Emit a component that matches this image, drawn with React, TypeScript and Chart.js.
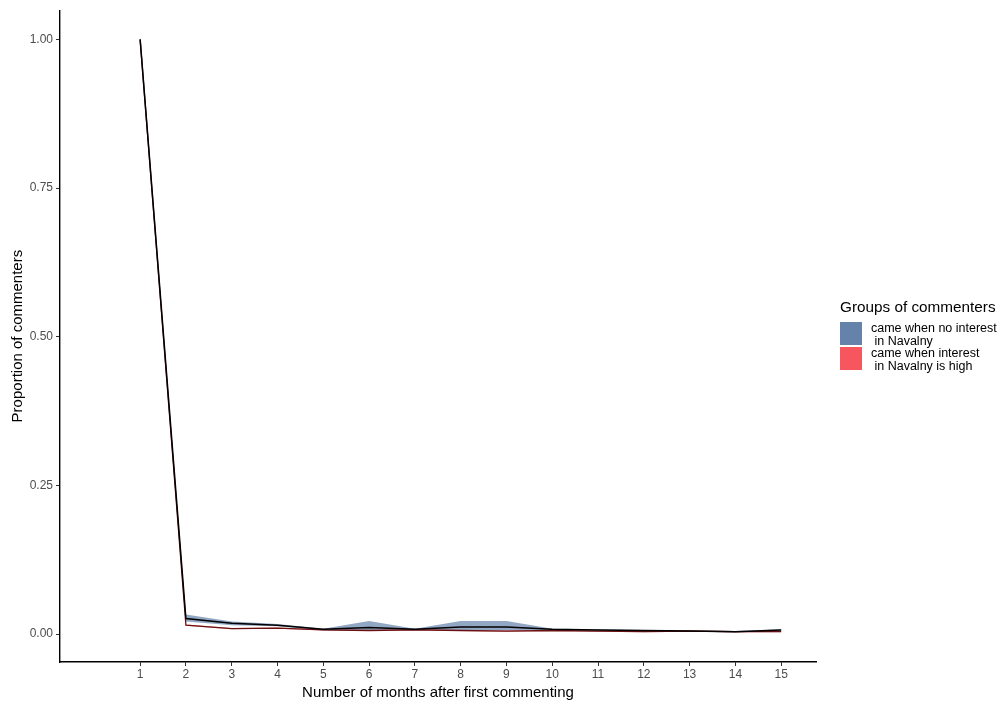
import React, { useEffect, useRef } from "react";
import { Chart, registerables } from "chart.js";

Chart.register(...registerables);

// Months after the first comment
const months = [1, 2, 3, 4, 5, 6, 7, 8, 9, 10, 11, 12, 13, 14, 15];

// Commenters who came when there was no interest in Navalny
const noInterestMean = [1.0, 0.026, 0.018, 0.015, 0.008, 0.011, 0.008, 0.012, 0.012, 0.008, 0.007, 0.006, 0.005, 0.004, 0.007];
const noInterestLow = [0.998, 0.021, 0.015, 0.013, 0.006, 0.006, 0.007, 0.006, 0.006, 0.007, 0.006, 0.005, 0.004, 0.003, 0.005];
const noInterestHigh = [1.0, 0.033, 0.021, 0.017, 0.009, 0.022, 0.009, 0.022, 0.022, 0.009, 0.008, 0.007, 0.006, 0.005, 0.008];

// Commenters who came when interest in Navalny was high
const highInterestMean = [1.0, 0.015, 0.009, 0.010, 0.007, 0.006, 0.007, 0.006, 0.005, 0.006, 0.005, 0.004, 0.005, 0.004, 0.004];
const highInterestLow = [0.999, 0.014, 0.008, 0.009, 0.006, 0.005, 0.006, 0.005, 0.004, 0.005, 0.004, 0.003, 0.004, 0.003, 0.003];
const highInterestHigh = [1.0, 0.016, 0.010, 0.011, 0.008, 0.007, 0.008, 0.007, 0.006, 0.007, 0.006, 0.005, 0.006, 0.005, 0.005];

const yTicks = [0, 0.25, 0.5, 0.75, 1.0];

const groupLabels = ["came when no interest\n in Navalny", "came when interest\n in Navalny is high"];
const groupColors = ["rgb(100,130,170)", "rgb(248,86,94)"];

const FONT = "'Liberation Sans', Arial, Helvetica, sans-serif";

const pts = (ys: number[]) => months.map((m, i) => ({ x: m, y: ys[i] }));

export default function App() {
  const canvasRef = useRef<HTMLCanvasElement | null>(null);

  useEffect(() => {
    const ctx = canvasRef.current;
    if (!ctx) return;
    const chart = new Chart(ctx, {
      type: "line",
      data: {
        datasets: [
          {
            label: "noInterestHigh",
            data: pts(noInterestHigh),
            borderWidth: 0,
            pointRadius: 0,
            backgroundColor: "rgba(100,130,170,0.7)",
            fill: "+1",
            order: 4,
          },
          {
            label: "noInterestLow",
            data: pts(noInterestLow),
            borderWidth: 0,
            pointRadius: 0,
            fill: false,
            order: 4,
          },
          {
            label: "highInterestHigh",
            data: pts(highInterestHigh),
            borderWidth: 0,
            pointRadius: 0,
            backgroundColor: "rgba(248,86,94,0.6)",
            fill: "+1",
            order: 3,
          },
          {
            label: "highInterestLow",
            data: pts(highInterestLow),
            borderWidth: 0,
            pointRadius: 0,
            fill: false,
            order: 3,
          },
          {
            label: "highInterestMean",
            data: pts(highInterestMean),
            borderColor: "#6b1010",
            borderWidth: 1.3,
            pointRadius: 0,
            fill: false,
            order: 2,
          },
          {
            label: "noInterestMean",
            data: pts(noInterestMean),
            borderColor: "#000000",
            borderWidth: 1.5,
            pointRadius: 0,
            fill: false,
            order: 1,
          },
        ],
      },
      options: {
        animation: false,
        responsive: false,
        maintainAspectRatio: false,
        layout: { padding: { top: 10, right: 182, left: 0, bottom: 0 } },
        plugins: {
          legend: { display: false },
          tooltip: { enabled: false },
        },
        scales: {
          x: {
            type: "linear",
            min: -0.75,
            max: 15.76,
            afterBuildTicks: (scale: any) => {
              scale.ticks = months.map((m) => ({ value: m }));
            },
            afterFit: (scale: any) => {
              scale.height = 40;
            },
            ticks: {
              color: "#4d4d4d",
              font: { family: FONT, size: 12 },
              padding: 1,
              maxRotation: 0,
              autoSkip: false,
            },
            grid: {
              drawOnChartArea: false,
              drawTicks: true,
              tickLength: 4,
              color: "#333333",
              lineWidth: 1,
            },
            border: { color: "#000000", width: 1.4 },
            title: {
              display: true,
              text: "Number of months after first commenting",
              color: "#000000",
              font: { family: FONT, size: 15 },
              padding: { top: 0, bottom: 0 },
            },
          },
          y: {
            type: "linear",
            min: -0.047,
            max: 1.049,
            afterBuildTicks: (scale: any) => {
              scale.ticks = yTicks.map((v) => ({ value: v }));
            },
            afterFit: (scale: any) => {
              scale.width = 60;
            },
            ticks: {
              color: "#4d4d4d",
              font: { family: FONT, size: 12 },
              padding: 3,
              callback: (v: any) => Number(v).toFixed(2),
            },
            grid: {
              drawOnChartArea: false,
              drawTicks: true,
              tickLength: 4,
              color: "#333333",
              lineWidth: 1,
            },
            border: { color: "#000000", width: 1.4 },
            title: {
              display: true,
              text: "Proportion of commenters",
              color: "#000000",
              font: { family: FONT, size: 15 },
              padding: { top: 9, bottom: 0 },
            },
          },
        },
      },
    });
    return () => chart.destroy();
  }, []);

  return (
    <div
      style={{
        position: "fixed",
        left: 0,
        top: 0,
        width: 998,
        height: 702,
        background: "#ffffff",
        fontFamily: FONT,
      }}
    >
      <canvas ref={canvasRef} width={998} height={702} style={{ display: "block" }} />
      <div style={{ position: "absolute", left: 840, top: 298, fontSize: 15.3, lineHeight: "18px", color: "#000", whiteSpace: "nowrap" }}>
        Groups of commenters
      </div>
      {groupLabels.map((label, i) => (
        <div key={i} style={{ position: "absolute", left: 840, top: 322 + i * 25, display: "flex" }}>
          <div style={{ width: 22, height: 23, background: groupColors[i] }} />
          <div
            style={{
              marginLeft: 9,
              marginTop: 0,
              fontSize: 12.5,
              lineHeight: "12.5px",
              color: "#000",
              whiteSpace: "pre",
            }}
          >
            {label}
          </div>
        </div>
      ))}
    </div>
  );
}
